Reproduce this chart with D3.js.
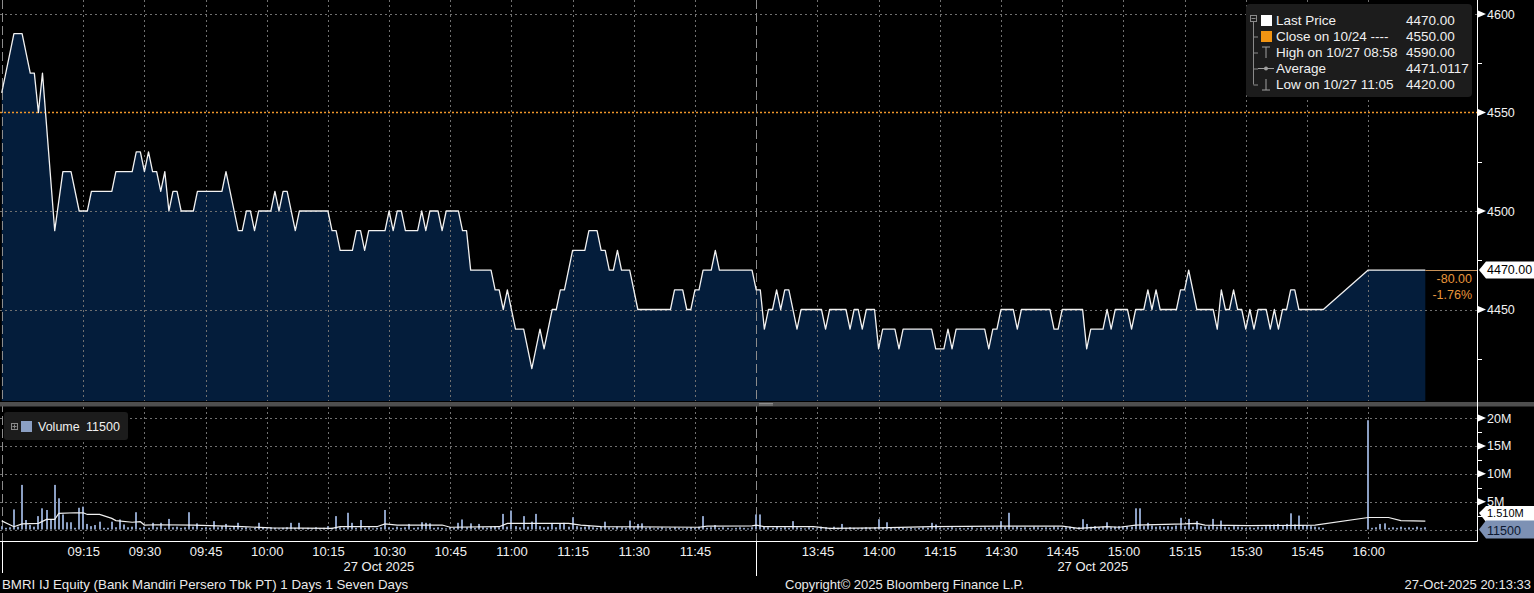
<!DOCTYPE html>
<html><head><meta charset="utf-8">
<script src="https://cdn.jsdelivr.net/npm/d3@7"></script>
<style>
html,body{margin:0;padding:0;background:#000;overflow:hidden}
svg{display:block}
text{font-family:"Liberation Sans",Arial,sans-serif}
</style>
</head><body>
<svg id="c" width="1534" height="593"></svg>
<script>
// ---------------- DATA ----------------
const priceTicks = [4450, 4500, 4550, 4600];
const priceMinorTicks = [4425, 4475, 4525, 4575];
const priceGrid = [4450, 4500, 4600];
const volumeTicks = [5, 10, 15, 20];           // millions
const volumeMinorTicks = [2.5, 7.5, 12.5, 17.5];
const volumeGrid = [0, 5, 10, 15, 20];
const amTimeTicks = ["09:15","09:30","09:45","10:00","10:15","10:30","10:45","11:00","11:15","11:30","11:45"];
const pmTimeTicks = ["13:45","14:00","14:15","14:30","14:45","15:00","15:15","15:30","15:45","16:00"];
const sessions = [["08:55","12:00"],["13:30","16:15"]];
const dateLabel = "27 Oct 2025";

const lastPrice = 4470, prevClose = 4550;
const netChange = "-80.00", pctChange = "-1.76%";
const lastVolume = "11500", lastVolumeMA = 1.510;

const legendLabels = ["Last Price","Close on 10/24 ----","High on 10/27 08:58","Average","Low on 10/27 11:05"];
const legendValues = ["4470.00","4550.00","4590.00","4471.0117","4420.00"];

// price path vertices (time, price)
const amPrice = [
["08:55",4560],["08:58",4590],["09:00",4590],["09:02",4570],["09:03",4570],["09:04",4550],["09:05",4570],["09:08",4490],["09:10",4520],["09:12",4520],["09:14",4500],["09:16",4500],["09:17",4510],["09:22",4510],["09:23",4520],["09:27",4520],["09:28",4530],["09:29",4530],["09:30",4520],["09:31",4530],["09:32",4520],["09:33",4520],["09:34",4510],["09:35",4520],["09:36",4500],["09:37",4510],["09:38",4510],["09:39",4500],["09:42",4500],["09:43",4510],["09:49",4510],["09:50",4520],["09:53",4490],["09:54",4490],["09:55",4500],["09:56",4500],["09:57",4490],["09:58",4500],["10:01",4500],["10:02",4510],["10:03",4500],["10:04",4510],["10:05",4510],["10:07",4490],["10:08",4500],["10:15",4500],["10:16",4490],["10:17",4490],["10:18",4480],["10:21",4480],["10:22",4490],["10:23",4490],["10:24",4480],["10:25",4490],["10:29",4490],["10:30",4500],["10:31",4490],["10:32",4500],["10:33",4500],["10:34",4490],["10:37",4490],["10:38",4500],["10:39",4490],["10:40",4500],["10:42",4500],["10:43",4490],["10:44",4500],["10:47",4500],["10:48",4490],["10:49",4490],["10:50",4470],["10:55",4470],["10:56",4460],["10:57",4460],["10:58",4450],["10:59",4460],["11:01",4440],["11:03",4440],["11:05",4420],["11:07",4440],["11:08",4430],["11:10",4450],["11:11",4450],["11:12",4460],["11:13",4460],["11:15",4480],["11:18",4480],["11:19",4490],["11:21",4490],["11:22",4480],["11:23",4480],["11:24",4470],["11:25",4470],["11:26",4480],["11:27",4470],["11:29",4470],["11:31",4450],["11:39",4450],["11:40",4460],["11:42",4460],["11:43",4450],["11:44",4450],["11:45",4460],["11:46",4460],["11:47",4470],["11:49",4470],["11:50",4480],["11:51",4470],["11:59",4470]
];
const pmPrice = [
["13:30",4460],["13:31",4460],["13:32",4440],["13:33",4450],["13:34",4450],["13:35",4460],["13:36",4450],["13:37",4460],["13:38",4460],["13:40",4440],["13:41",4450],["13:46",4450],["13:47",4440],["13:48",4450],["13:52",4450],["13:53",4440],["13:54",4450],["13:55",4450],["13:56",4440],["13:57",4450],["13:59",4450],["14:00",4430],["14:01",4440],["14:04",4440],["14:05",4430],["14:06",4440],["14:13",4440],["14:14",4430],["14:16",4430],["14:17",4440],["14:18",4430],["14:19",4440],["14:26",4440],["14:27",4430],["14:28",4440],["14:29",4440],["14:30",4450],["14:33",4450],["14:34",4440],["14:35",4450],["14:42",4450],["14:43",4440],["14:44",4440],["14:45",4450],["14:50",4450],["14:51",4430],["14:52",4440],["14:55",4440],["14:56",4450],["14:57",4440],["14:58",4450],["15:01",4450],["15:02",4440],["15:03",4450],["15:05",4450],["15:06",4460],["15:07",4450],["15:08",4460],["15:09",4450],["15:13",4450],["15:14",4460],["15:15",4460],["15:16",4470],["15:18",4450],["15:22",4450],["15:23",4440],["15:24",4460],["15:25",4450],["15:26",4450],["15:27",4460],["15:28",4450],["15:29",4450],["15:30",4440],["15:31",4450],["15:32",4440],["15:33",4450],["15:35",4450],["15:36",4440],["15:37",4450],["15:38",4440],["15:39",4450],["15:40",4450],["15:41",4460],["15:42",4460],["15:43",4450],["15:49",4450],["16:00",4470],["16:14",4470]
];

// per-minute volume in millions, morning starts 08:55, afternoon starts 13:30
const amVolumeStart = "08:55";
const amVolume = [
0.6,0.3,0.4,3.6,0.5,8.0,1.7,0.8,0.5,2.4, 3.8,3.5,1.7,8.0,5.6,2.7,1.3,1.3,0.3,3.9,
4.1,1.0,0.6,0.8,1.4,0.3,0.3,1.4,0.4,1.8, 0.9,0.4,0.5,3.1,0.3,0.5,0.3,1.2,0.4,1.2,
0.3,1.9,0.4,0.5,0.3,0.4,3.1,0.5,1.1,0.3, 0.4,0.3,1.5,0.4,0.6,1.0,0.3,0.5,1.2,0.3,
0.4,0.2,0.3,1.2,0.3,0.2,0.4,0.3,0.2,0.3, 0.4,1.2,0.3,1.2,0.2,0.3,0.2,0.4,0.2,0.3,
0.6,0.3,2.4,0.4,0.3,3.0,1.2,0.3,1.7,0.3, 0.4,0.2,0.3,0.4,3.5,0.4,0.3,0.5,0.3,0.4,
1.0,0.3,0.4,1.3,1.2,1.1,0.3,0.4,0.3,0.2, 0.4,0.3,1.2,1.8,0.4,1.1,0.3,1.0,0.4,0.3,
0.5,0.6,0.4,2.8,0.5,3.4,0.6,0.4,2.4,0.5, 1.4,2.8,0.6,0.4,0.5,1.1,0.4,1.1,1.2,0.5,
2.2,0.6,0.4,0.5,0.6,0.4,0.3,0.5,1.4,0.4, 0.3,0.5,0.4,0.3,1.6,0.4,1.0,1.1,0.3,0.4,
0.2,0.3,0.4,0.2,0.3,0.4,0.3,0.2,0.3,0.4, 0.3,0.5,2.4,0.3,0.4,0.8,0.3,0.4,0.3,0.2,
0.3,0.4,0.3,0.2,0.4
];
const pmVolumeStart = "13:30";
const pmVolume = [
2.7,2.7,0.5,0.4,0.3,0.5,0.3,0.4,0.3,1.5, 0.4,0.3,0.2,0.4,0.3,0.2,0.5,0.4,0.3,0.5,
0.3,1.0,0.3,0.4,0.3,0.2,0.3,0.4,0.3,0.4, 1.85,0.4,1.3,0.3,0.2,0.4,0.3,0.2,0.3,0.2,
0.3,0.4,0.3,1.2,0.9,0.3,0.2,0.3,0.4,0.2, 0.3,0.2,0.3,0.4,0.2,0.3,0.4,0.3,0.5,0.4,
1.5,0.5,3.0,0.4,0.5,0.3,0.4,0.3,0.5,0.4, 0.3,0.4,0.3,0.5,0.4,0.3,0.4,0.5,0.3,0.4,
1.85,1.0,0.5,0.6,0.4,0.5,1.3,0.4,0.5,0.6, 0.5,0.6,0.5,3.8,3.8,0.6,1.2,0.7,0.5,0.6,
0.5,0.6,0.5,0.7,2.1,0.6,1.9,0.5,1.5,0.6, 0.5,0.6,1.9,0.5,1.6,0.5,0.4,0.6,0.5,0.4,
0.3,0.4,0.3,0.5,0.4,0.6,0.7,0.9,1.0,0.8, 1.0,2.9,0.9,2.5,0.8,0.7,0.6,0.5,0.4,0.3,
0,0,0,0,0,0,0,0,0,0, 19.6,0.3,0.4,1.0,1.1,0.3,0.4,0.3,0.5,0.3,
0.4,0.3,0.5,0.3,0.4
];
// volume moving-average line vertices (time, millions)
const volumeMA = [
["08:55",1.55],["08:58",0.5],["09:00",1.0],["09:04",1.1],["09:06",1.8],["09:08",1.8],["09:09",2.9],["09:13",3.0],["09:15",3.0],["09:16",2.7],["09:19",2.7],["09:22",2.0],["09:23",1.6],["09:27",1.3],["09:29",1.4],["09:30",0.8],["09:33",0.85],["09:42",0.8],["09:54",0.5],["10:01",0.3],["10:16",0.2],["10:18",0.5],["10:27",0.5],["10:29",1.0],["10:32",0.8],["10:43",0.8],["10:45",0.4],["10:57",0.5],["10:59",1.1],["11:14",1.1],["11:17",0.8],["11:22",0.5],["11:46",0.4],["11:48",0.6],["11:59",0.65],
["13:30",0.8],["13:32",0.5],["13:44",0.5],["13:48",0.2],["14:00",0.3],["14:13",0.5],["14:30",0.6],["14:45",0.6],["14:49",0.2],["14:56",0.5],["14:59",0.4],["15:03",0.8],["15:15",1.0],["15:18",1.1],["15:20",0.8],["15:31",0.7],["15:43",0.75],["15:47",0.8],["16:00",2.15],["16:05",2.15],["16:08",1.6],["16:14",1.51]
];

// ---------------- SCALES ----------------
const tp = d3.timeParse("%H:%M");
const x = d3.scaleTime()
  .domain([tp("08:55"), tp("12:00"), tp("13:30"), tp("16:15")])
  .range([1.7, 756.1, 756.2, 1429.4]);
const y = d3.scaleLinear().domain([4400, 4600]).range([408, 14]);
const yv = d3.scaleLinear().domain([0, 20]).range([529.5, 418]);

const AXIS_X = 1477, PRICE_BOTTOM = 401, VOL_TOP = 407, VOL_BOTTOM = 541;
const GRID = "#707070";
const svg = d3.select("#c");
svg.append("rect").attr("width",1534).attr("height",593).attr("fill","#000");

const prices = amPrice.concat(pmPrice).map(([t,p]) => ({t: tp(t), p}));
const crisp = v => Math.round(v) + 0.5;

// price area fill
svg.append("path").datum(prices)
  .attr("d", d3.area().x(d => x(d.t)).y0(PRICE_BOTTOM).y1(d => y(d.p)))
  .attr("fill", "#041d3b");

// grid
const gridTimes = amTimeTicks.concat(pmTimeTicks).map(tp);
const gGrid = svg.append("g").attr("stroke", GRID).attr("stroke-dasharray","2,3").attr("stroke-width",1);
gGrid.selectAll("line.vp").data(gridTimes).join("line").attr("class","vp")
  .attr("x1", d => crisp(x(d))).attr("x2", d => crisp(x(d))).attr("y1", 0).attr("y2", PRICE_BOTTOM);
gGrid.selectAll("line.vv").data(gridTimes).join("line").attr("class","vv")
  .attr("x1", d => crisp(x(d))).attr("x2", d => crisp(x(d))).attr("y1", VOL_TOP).attr("y2", VOL_BOTTOM);
gGrid.selectAll("line.hp").data(priceGrid).join("line").attr("class","hp")
  .attr("x1", 0).attr("x2", AXIS_X).attr("y1", d => crisp(y(d))).attr("y2", d => crisp(y(d)));
gGrid.selectAll("line.hv").data(volumeGrid).join("line").attr("class","hv")
  .attr("x1", 0).attr("x2", AXIS_X).attr("y1", d => crisp(yv(d))).attr("y2", d => crisp(yv(d)));

// previous close line
svg.append("line").attr("x1",0).attr("x2",AXIS_X)
  .attr("y1", y(prevClose)).attr("y2", y(prevClose))
  .attr("stroke","#f0962a").attr("stroke-width",1.6).attr("stroke-dasharray","2,2");

// session break dashed lines
const breakTimes = [tp(sessions[0][0]), tp(sessions[1][0])];
svg.append("g").selectAll("line").data(breakTimes).join("line")
  .attr("x1", d => Math.round(x(d)) + 0.5)
  .attr("x2", d => Math.round(x(d)) + 0.5)
  .attr("y1", 0).attr("y2", VOL_BOTTOM)
  .attr("stroke","#8c8c8c").attr("stroke-dasharray","9,4");

// price line
svg.append("path").datum(prices)
  .attr("d", d3.line().x(d => x(d.t)).y(d => y(d.p)))
  .attr("fill","none").attr("stroke","#f2f2f2").attr("stroke-width",1.3).attr("stroke-linejoin","round");

// last price extension
const lastT = prices[prices.length-1].t;
svg.append("line").attr("x1", x(lastT)).attr("x2", AXIS_X)
  .attr("y1", crisp(y(lastPrice))).attr("y2", crisp(y(lastPrice)))
  .attr("stroke","#c8925a").attr("stroke-width",1);

// volume bars
const vols = amVolume.map((v,i) => ({t: d3.timeMinute.offset(tp(amVolumeStart), i), v}))
  .concat(pmVolume.map((v,i) => ({t: d3.timeMinute.offset(tp(pmVolumeStart), i), v})))
  .filter(d => d.v > 0);
svg.append("g").selectAll("rect").data(vols).join("rect")
  .attr("x", d => Math.round(x(d.t)) - 1).attr("width", 2)
  .attr("y", d => yv(d.v)).attr("height", d => yv(0) - yv(d.v))
  .attr("fill","#8b9fc3");

// volume MA
svg.append("path").datum(volumeMA.map(([t,v]) => ({t: tp(t), v})))
  .attr("d", d3.line().x(d => x(d.t)).y(d => yv(d.v)))
  .attr("fill","none").attr("stroke","#f0f0f0").attr("stroke-width",1.2);

// panel separator
svg.append("rect").attr("x",0).attr("y",402).attr("width",1534).attr("height",4.5).attr("fill","#4e4e4e");
svg.append("g").selectAll("line").data([403.5, 405]).join("line")
  .attr("x1",759).attr("x2",773).attr("y1",d=>d).attr("y2",d=>d).attr("stroke","#9a9a9a").attr("stroke-width",0.8);

// right axis line & bottom axis line
svg.append("line").attr("x1",AXIS_X+0.5).attr("x2",AXIS_X+0.5).attr("y1",0).attr("y2",VOL_BOTTOM+0.5).attr("stroke","#fff");
svg.append("line").attr("x1",0).attr("x2",AXIS_X+0.5).attr("y1",VOL_BOTTOM+0.5).attr("y2",VOL_BOTTOM+0.5).attr("stroke","#fff");
svg.append("g").selectAll("line").data(breakTimes).join("line")
  .attr("x1", d => Math.round(x(d)) + 0.5).attr("x2", d => Math.round(x(d)) + 0.5)
  .attr("y1", VOL_BOTTOM).attr("y2", (d,i) => i === 0 ? 573 : 576).attr("stroke","#fff");

// price axis
const pAxis = svg.append("g").attr("transform", `translate(${AXIS_X},0)`)
  .call(d3.axisRight(y).tickValues(priceTicks).tickSize(0).tickPadding(10).tickFormat(d3.format("d")));
pAxis.select(".domain").remove();
pAxis.selectAll("text").attr("fill","#f2f2f2").attr("font-size","12.5px").attr("font-family","Liberation Sans, Arial, sans-serif");
svg.append("g").selectAll("path").data(priceTicks).join("path")
  .attr("d", d => `M${AXIS_X+1},${y(d)-3.5}L${AXIS_X+9},${y(d)}L${AXIS_X+1},${y(d)+3.5}Z`).attr("fill","#fff");
svg.append("g").selectAll("line").data(priceMinorTicks).join("line")
  .attr("x1",AXIS_X).attr("x2",AXIS_X+5).attr("y1",d=>crisp(y(d))).attr("y2",d=>crisp(y(d))).attr("stroke","#fff");

// volume axis
const vAxis = svg.append("g").attr("transform", `translate(${AXIS_X},0)`)
  .call(d3.axisRight(yv).tickValues(volumeTicks).tickSize(0).tickPadding(10).tickFormat(d => d + "M"));
vAxis.select(".domain").remove();
vAxis.selectAll("text").attr("fill","#f2f2f2").attr("font-size","12.5px").attr("font-family","Liberation Sans, Arial, sans-serif");
svg.append("g").selectAll("path").data(volumeTicks).join("path")
  .attr("d", d => `M${AXIS_X+1},${yv(d)-3.5}L${AXIS_X+9},${yv(d)}L${AXIS_X+1},${yv(d)+3.5}Z`).attr("fill","#fff");
svg.append("g").selectAll("line").data(volumeMinorTicks).join("line")
  .attr("x1",AXIS_X).attr("x2",AXIS_X+5).attr("y1",d=>crisp(yv(d))).attr("y2",d=>crisp(yv(d))).attr("stroke","#fff");

// last price tag
const lp = y(lastPrice);
svg.append("path").attr("d", `M${AXIS_X+2},${lp}L${AXIS_X+9},${lp-8.5}L1534,${lp-8.5}L1534,${lp+8.5}L${AXIS_X+9},${lp+8.5}Z`).attr("fill","#fff");
svg.append("text").attr("x",AXIS_X+10).attr("y",lp).attr("dy","0.35em").attr("font-size","12.5px").attr("fill","#000").text(d3.format(".2f")(lastPrice));
svg.append("text").attr("x",1472).attr("y",lp+9).attr("dy","0.35em").attr("text-anchor","end").attr("font-size","12.5px").attr("fill","#e8963c").text(netChange);
svg.append("text").attr("x",1472).attr("y",lp+25).attr("dy","0.35em").attr("text-anchor","end").attr("font-size","12.5px").attr("fill","#e8963c").text(pctChange);

// volume MA tag (mostly behind the last-volume tag) and last volume tag
const mv = yv(lastVolumeMA) - 8;
svg.append("path").attr("d", `M${AXIS_X+2},${mv}L${AXIS_X+9},${mv-7}L1534,${mv-7}L1534,${mv+9}L${AXIS_X+9},${mv+9}Z`).attr("fill","#fff");
svg.append("text").attr("x",AXIS_X+10).attr("y",mv+0.5).attr("dy","0.35em").attr("font-size","11px").attr("fill","#000").text(d3.format(".3f")(lastVolumeMA) + "M");
const lv = yv(0);
svg.append("path").attr("d", `M${AXIS_X+2},${lv}L${AXIS_X+9},${lv-9}L1534,${lv-9}L1534,${lv+9}L${AXIS_X+9},${lv+9}Z`).attr("fill","#7d91b4");
svg.append("text").attr("x",AXIS_X+10).attr("y",lv+1).attr("dy","0.35em").attr("font-size","12.5px").attr("fill","#0c1830").text(lastVolume);

// time axis
const tAxis = svg.append("g").attr("transform", `translate(0,${VOL_BOTTOM})`)
  .call(d3.axisBottom(x).tickValues(gridTimes).tickSize(0).tickPadding(6).tickFormat(d3.timeFormat("%H:%M")));
tAxis.select(".domain").remove();
tAxis.selectAll("text").attr("fill","#f0f0f0").attr("font-size","13px").attr("font-family","Liberation Sans, Arial, sans-serif");

// date labels centered on sessions
svg.append("g").selectAll("text").data(sessions).join("text")
  .attr("x", d => (x(tp(d[0])) + x(tp(d[1]))) / 2).attr("y", 566).attr("dy","0.35em")
  .attr("text-anchor","middle").attr("font-size","13px").attr("fill","#f0f0f0").text(dateLabel);

// footer
svg.append("text").attr("x",2).attr("y",584).attr("dy","0.35em").attr("font-size","13.3px").attr("fill","#eaeaea")
  .text("BMRI IJ Equity (Bank Mandiri Persero Tbk PT) 1 Days 1 Seven Days");
svg.append("text").attr("x",785).attr("y",584).attr("dy","0.35em").attr("font-size","13px").attr("fill","#eaeaea")
  .text("Copyright\u00A9 2025 Bloomberg Finance L.P.");
svg.append("text").attr("x",1531).attr("y",584).attr("dy","0.35em").attr("text-anchor","end").attr("font-size","13px").attr("fill","#eaeaea")
  .text("27-Oct-2025 20:13:33");

// price legend
const lg = svg.append("g");
lg.append("rect").attr("x",1246).attr("y",4).attr("width",226).attr("height",93).attr("rx",4).attr("fill","#1c1c1c");
const rowY = i => 20.5 + 16 * i;
const TREE = "#8a8a8a";
lg.append("rect").attr("x",1250.5).attr("y",15.5).attr("width",6).attr("height",6).attr("fill","none").attr("stroke",TREE);
lg.append("line").attr("x1",1251.5).attr("x2",1255.5).attr("y1",18.5).attr("y2",18.5).attr("stroke",TREE);
lg.append("line").attr("x1",1253.5).attr("x2",1253.5).attr("y1",22).attr("y2",rowY(4)).attr("stroke",TREE);
lg.selectAll("line.br").data([1,2,3,4]).join("line").attr("class","br")
  .attr("x1",1253.5).attr("x2",1258).attr("y1",i=>crisp(rowY(i))-0.5).attr("y2",i=>crisp(rowY(i))-0.5).attr("stroke",TREE);
lg.append("rect").attr("x",1261).attr("y",rowY(0)-5.5).attr("width",11).attr("height",11).attr("fill","#ffffff");
lg.append("rect").attr("x",1261).attr("y",rowY(1)-5.5).attr("width",11).attr("height",11).attr("fill","#f29412");
const IC = "#a0a0a0";
lg.append("path").attr("d",`M1262,${rowY(2)-5.5}H1270M1266,${rowY(2)-5.5}V${rowY(2)+5.5}`).attr("stroke",IC).attr("fill","none");
lg.append("path").attr("d",`M1258,${rowY(3)}H1274`).attr("stroke",IC);
lg.append("circle").attr("cx",1266).attr("cy",rowY(3)).attr("r",2).attr("fill",IC);
lg.append("path").attr("d",`M1266,${rowY(4)-5.5}V${rowY(4)+5.5}M1262,${rowY(4)+5.5}H1270`).attr("stroke",IC).attr("fill","none");
lg.selectAll("text.l").data(legendLabels).join("text").attr("class","l")
  .attr("x",1276).attr("y",(d,i)=>rowY(i)).attr("dy","0.35em").attr("font-size","13.5px").attr("fill","#f0f0f0").text(d=>d);
lg.selectAll("text.v").data(legendValues).join("text").attr("class","v")
  .attr("x",1406).attr("y",(d,i)=>rowY(i)).attr("dy","0.35em").attr("font-size","13.5px").attr("fill","#f0f0f0").text(d=>d);

// volume legend
const vl = svg.append("g");
vl.append("rect").attr("x",4).attr("y",412).attr("width",124).attr("height",28).attr("rx",3).attr("fill","#1c1c1c");
vl.append("rect").attr("x",11.5).attr("y",423.5).attr("width",6).attr("height",6).attr("fill","none").attr("stroke",TREE);
vl.append("path").attr("d","M12.5,426.5H16.5M14.5,424.5V428.5").attr("stroke",TREE);
vl.append("rect").attr("x",21).attr("y",421).attr("width",11).attr("height",11).attr("fill","#8b9fc3");
vl.append("text").attr("x",38).attr("y",427).attr("dy","0.35em").attr("font-size","12.5px").attr("fill","#f0f0f0").text("Volume");
vl.append("text").attr("x",86).attr("y",427).attr("dy","0.35em").attr("font-size","12.5px").attr("fill","#f0f0f0").text(lastVolume);
</script>
</body></html>
